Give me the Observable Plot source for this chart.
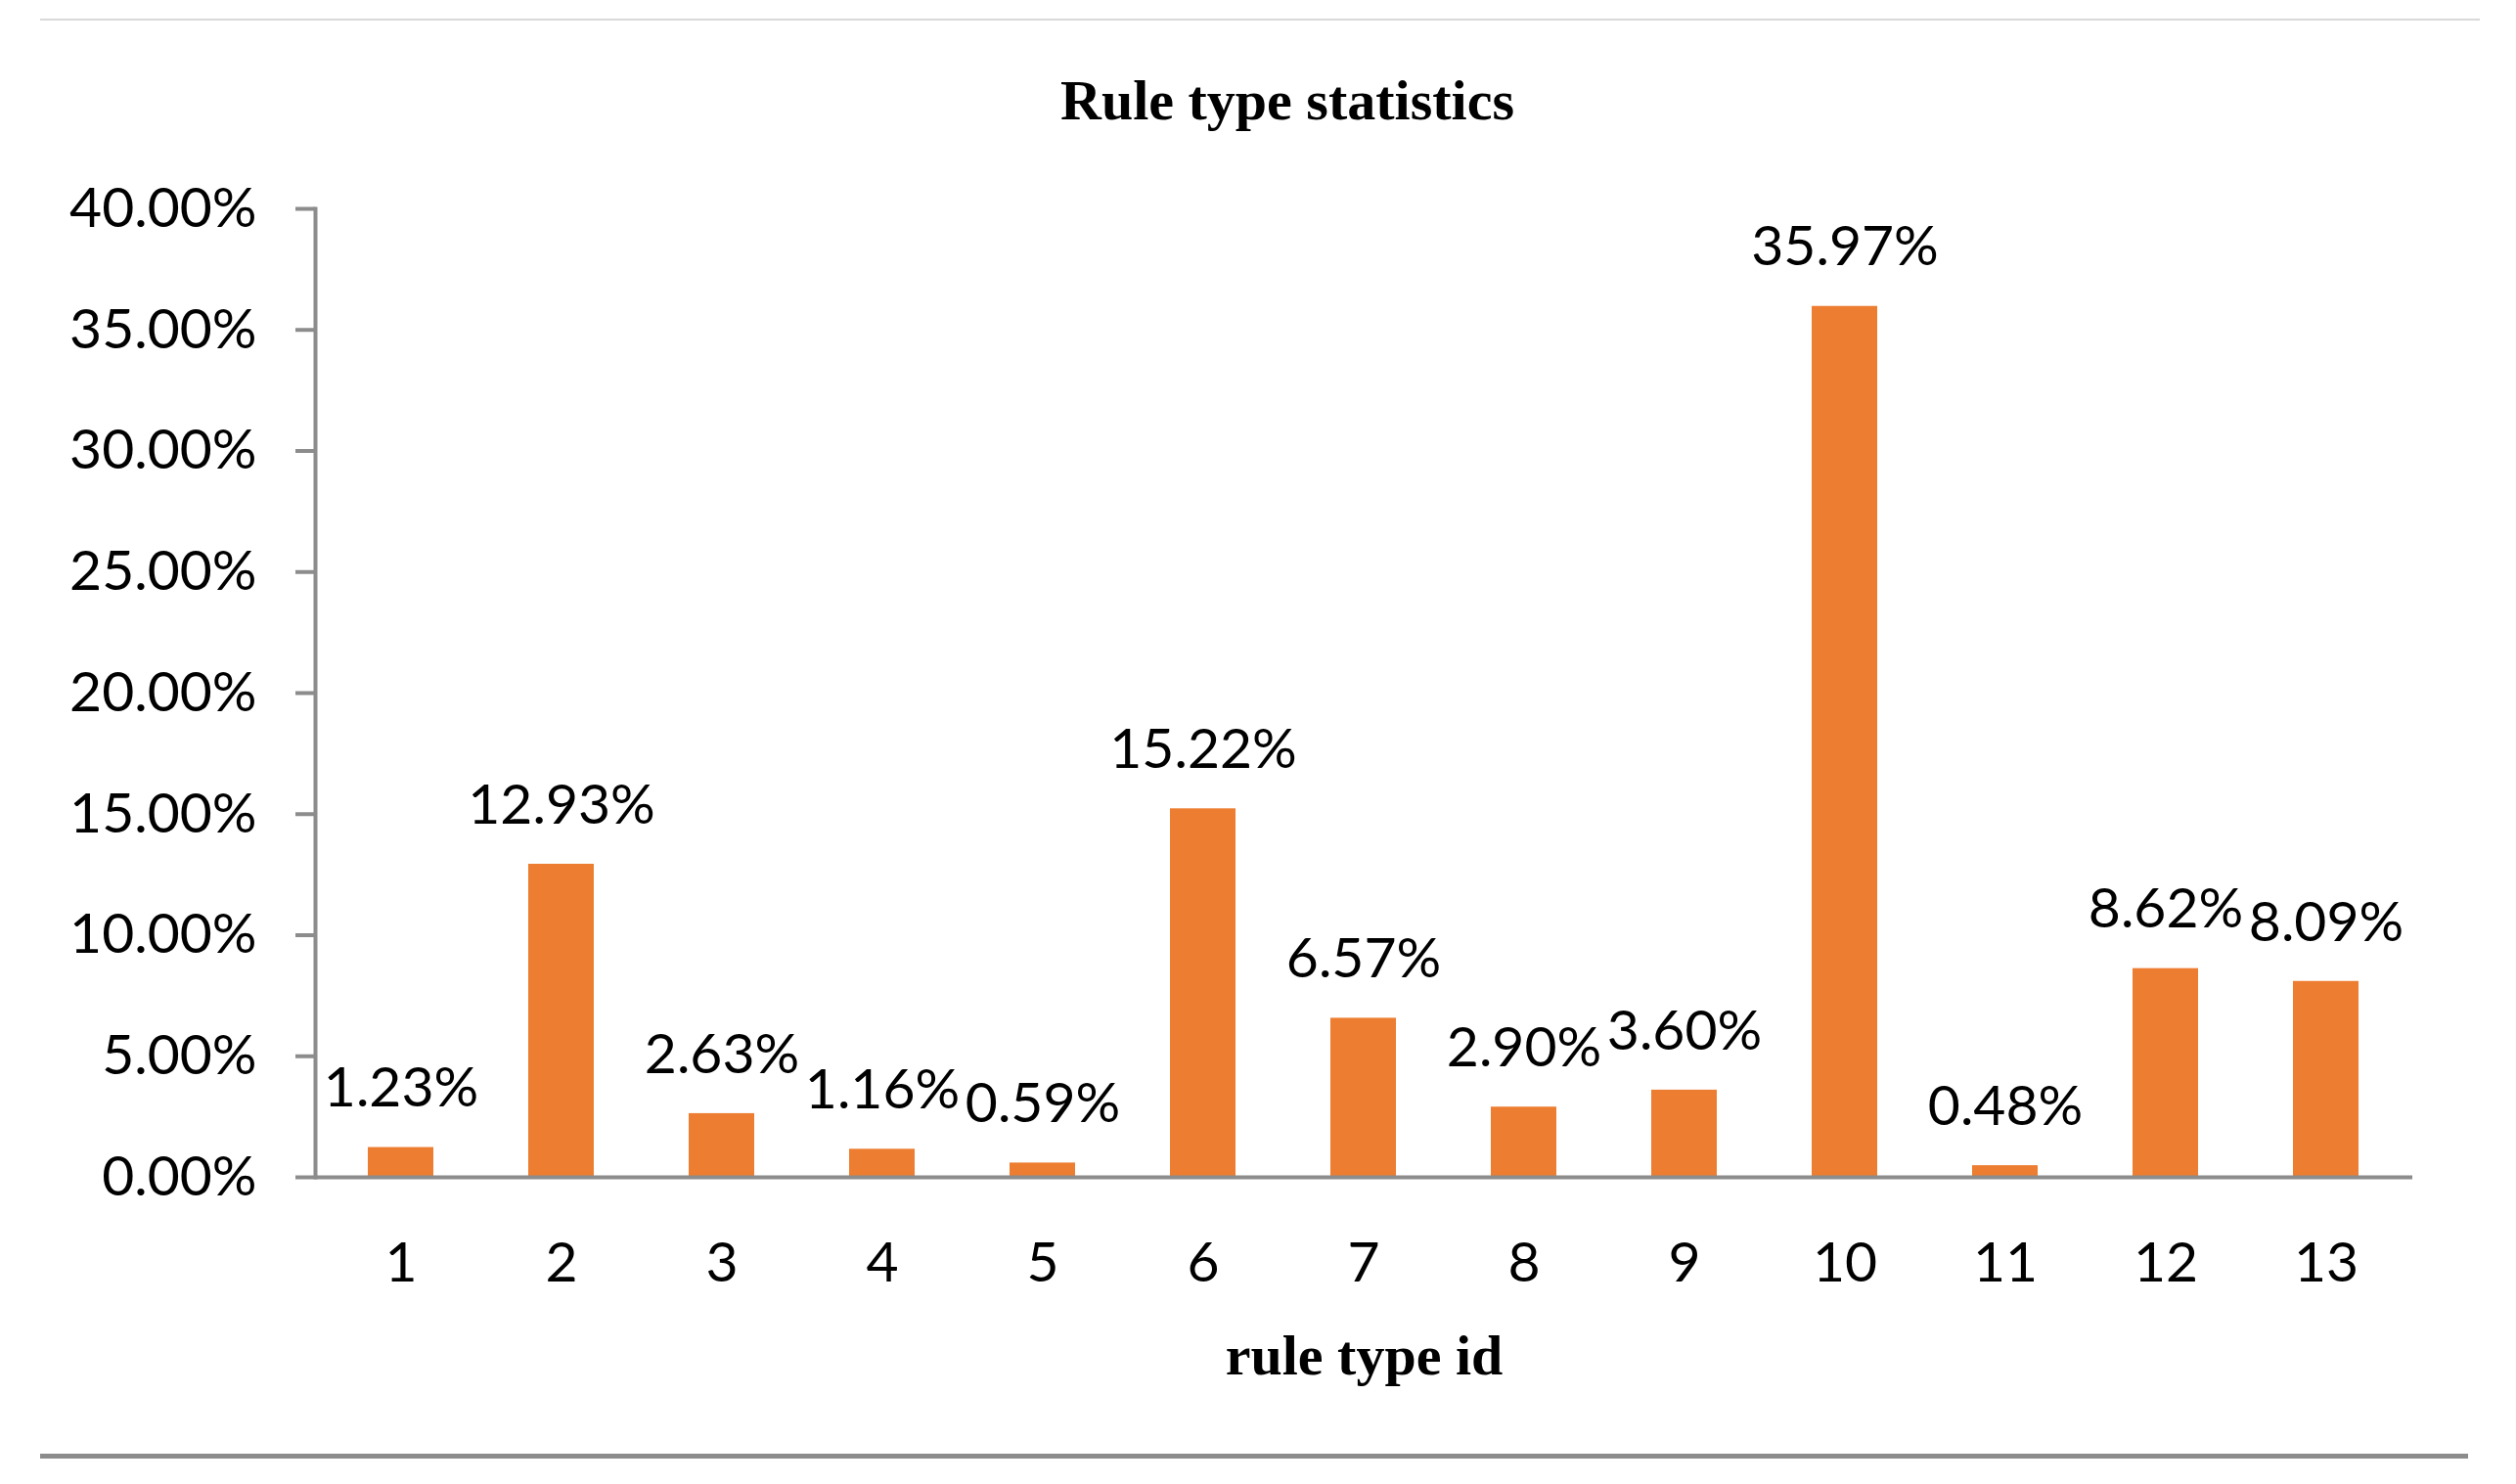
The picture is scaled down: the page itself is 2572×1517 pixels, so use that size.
<!DOCTYPE html>
<html>
<head>
<meta charset="utf-8">
<script src="https://cdn.jsdelivr.net/npm/d3@7"></script>
<script src="https://cdn.jsdelivr.net/npm/@observablehq/plot@0.6"></script>
<style>
  html, body { margin: 0; padding: 0; background: #fff; }
  body { width: 2572px; height: 1517px; position: relative; overflow: hidden; }
  #topline { position: absolute; left: 41px; top: 19px; width: 2494px; height: 2px; background: #d9d9d9; }
  #bottomline { position: absolute; left: 41px; top: 1486px; width: 2482px; height: 5px; background: #8c8c8c; }
  #title { position: absolute; left: 0; top: 74px; width: 2632px; text-align: center;
           font-family: "Liberation Serif", "Times New Roman", serif; font-weight: bold;
           font-size: 58px; line-height: 58px; color: #000; }
  #chart { position: absolute; left: 0; top: 150px; }
</style>
</head>
<body>
<div id="topline"></div>
<div id="title"></div>
<div id="chart"></div>
<div id="bottomline"></div>
<script>
const chartTitle = "Rule type statistics";
const xTitle = "rule type id";
const ruleIds = ["1","2","3","4","5","6","7","8","9","10","11","12","13"];
const shares = [1.23, 12.93, 2.63, 1.16, 0.59, 15.22, 6.57, 2.90, 3.60, 35.97, 0.48, 8.62, 8.09];
const yTicks = [0, 5, 10, 15, 20, 25, 30, 35, 40];

const data = ruleIds.map((id, i) => ({id, value: shares[i]}));
const pct = v => v.toFixed(2) + "%";

document.getElementById("title").textContent = chartTitle;

const grey = "#8c8c8c";
const plot = Plot.plot({
  width: 2572,
  height: 1300,
  marginLeft: 322,
  marginRight: 106,
  marginTop: 63,
  marginBottom: 247,
  style: {fontFamily: "Lato, sans-serif", fontSize: "57px", color: "#000", background: "#fff"},
  x: {domain: ruleIds, paddingInner: 0.59, paddingOuter: 0.295, label: null},
  y: {domain: [0, 40], label: null},
  marks: [
    Plot.barY(data, {x: "id", y: "value", fill: "#ED7D31"}),
    Plot.ruleY([0], {stroke: grey, strokeWidth: 4}),
    Plot.frame({anchor: "left", stroke: grey, strokeWidth: 4}),
    Plot.axisY({ticks: yTicks, tickFormat: pct, tickSize: 20, tickPadding: 40,
                stroke: grey, strokeWidth: 4, fill: "#000", label: null}),
    Plot.axisX({tickSize: 0, tickPadding: 66, fill: "#000", label: null}),
    Plot.text(data, {x: "id", y: "value", text: d => pct(d.value), dy: -60,
                     fill: "#000", fontSize: 57}),
    Plot.text([xTitle], {frameAnchor: "bottom", dy: 201, text: d => d,
                         fontFamily: "Liberation Serif, serif", fontWeight: "bold",
                         fontSize: 58, fill: "#000"})
  ]
});
document.getElementById("chart").appendChild(plot);
</script>
</body>
</html>
